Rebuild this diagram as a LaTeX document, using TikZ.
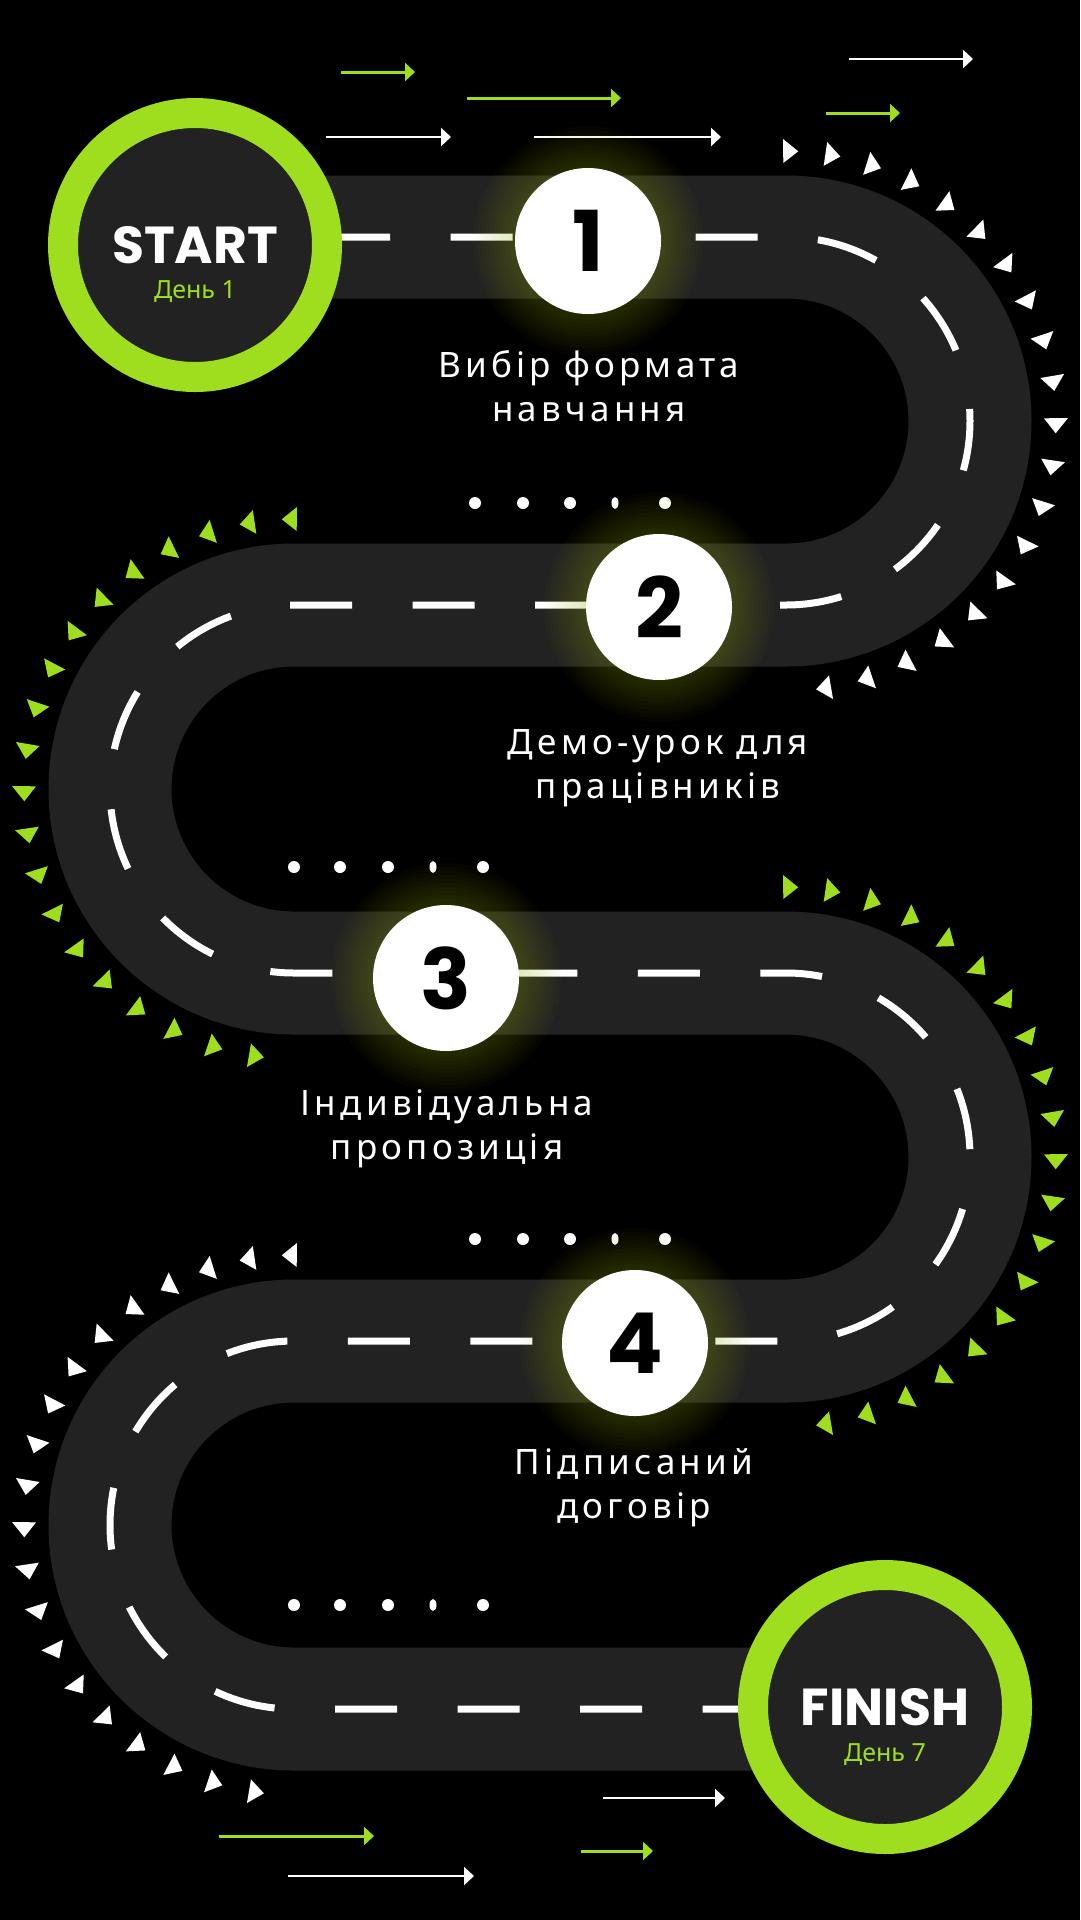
\documentclass[tikz,border=0pt]{standalone}
\usepackage{fontspec}
\setmainfont{Noto Sans}
\newfontfamily\popfont{Poppins}
\newfontfamily\labelfont[LetterSpace=12]{Noto Sans}
\usetikzlibrary{arrows.meta, calc}

\definecolor{roadgrey}{RGB}{34,34,34}
\definecolor{limegreen}{RGB}{158,222,31}
\definecolor{glowgreen}{RGB}{160,180,25}

\tikzset{
  road/.style={line width=123pt, roadgrey},
  lane/.style={line width=7pt, white, dash pattern=on 62pt off 60.5pt, dash phase=112pt},
  ringnode/.style={circle, fill=roadgrey, draw=limegreen, line width=30pt, minimum size=264pt,
    inner sep=0pt, text=white, font=\popfont\bfseries\fontsize{52}{52}\selectfont},
  daytext/.style={anchor=base, text=limegreen, inner sep=0pt, font=\fontsize{25}{25}\selectfont},
  stepcircle/.style={circle, fill=white, minimum size=146pt, inner sep=0pt,
    font=\popfont\bfseries\fontsize{84}{84}\selectfont},
  steptext/.style={text=white, align=center, inner sep=0pt, font=\labelfont\fontsize{35}{44}\selectfont},
  greenarrow/.style={-{Triangle[length=10pt,width=18pt]}, line width=3pt, limegreen},
  whitearrow/.style={-{Triangle[length=10pt,width=18pt]}, line width=2.5pt, white},
  markwhite/.style={fill=white},
  markgreen/.style={fill=limegreen},
}

% centre line of the road, used twice
\newcommand{\roadline}{(195,237) -- (786,237)
  arc[start angle=90, end angle=-90, radius=184pt] -- (294,605)
  arc[start angle=90, end angle=270, radius=184pt] -- (786,973)
  arc[start angle=90, end angle=-90, radius=184pt] -- (294,1341)
  arc[start angle=90, end angle=270, radius=184pt] -- (885,1709)}

% triangles around a turn: #1 centre, #2 style
\newcommand{\rightmarks}[2]{%
  \foreach \k in {0,...,19}{
    \pgfmathsetmacro{\aa}{89-9*\k+1.6}
    \pgfmathsetmacro{\ab}{89-9*\k-1.6}
    \fill[#2] ($(#1)+(\aa:258pt)$) -- ($(#1)+(\aa:282pt)$) -- ($(#1)+(\ab:270pt)$) -- cycle;
  }}
\newcommand{\leftmarks}[2]{%
  \foreach \k in {0,...,19}{
    \pgfmathsetmacro{\aa}{91+9*\k-1.6}
    \pgfmathsetmacro{\ab}{91+9*\k+1.6}
    \fill[#2] ($(#1)+(\aa:258pt)$) -- ($(#1)+(\aa:282pt)$) -- ($(#1)+(\ab:270pt)$) -- cycle;
  }}

\begin{document}
\begin{tikzpicture}[x=1pt, y=-1pt]
  \useasboundingbox (0,0) rectangle (1080,1920);
  \fill[black] (0,0) rectangle (1080,1920);

  % turn centres
  \coordinate (turn1) at (786,421);
  \coordinate (turn2) at (294,789);
  \coordinate (turn3) at (786,1157);
  \coordinate (turn4) at (294,1525);

  % speed arrows
  \draw[greenarrow] (341,72) -- (415,72);
  \draw[whitearrow] (849,59) -- (973,59);
  \draw[greenarrow] (467,98) -- (621,98);
  \draw[greenarrow] (826,113) -- (900,113);
  \draw[whitearrow] (326,137) -- (451,137);
  \draw[whitearrow] (534,137) -- (721,137);
  \draw[whitearrow] (603,1798) -- (725,1798);
  \draw[greenarrow] (219,1836) -- (374,1836);
  \draw[greenarrow] (581,1851) -- (653,1851);
  \draw[whitearrow] (288,1876) -- (474,1876);

  % road
  \draw[road] \roadline;
  \draw[lane] \roadline;

  % triangles along the turns
  \rightmarks{turn1}{markwhite}
  \leftmarks{turn2}{markgreen}
  \rightmarks{turn3}{markgreen}
  \leftmarks{turn4}{markwhite}

  % dots
  \foreach \y in {503,1239}{
    \foreach \x in {475,523,570,665} \fill[white] (\x,\y) circle[radius=6pt];
    \fill[white] (615,\y) ellipse[x radius=3.5pt, y radius=6pt];
  }
  \foreach \y in {867,1605}{
    \foreach \x in {294,340,388,483} \fill[white] (\x,\y) circle[radius=6pt];
    \fill[white] (433,\y) ellipse[x radius=3.5pt, y radius=6pt];
  }

  % start and finish
  \node[ringnode] (start) at (195,245) {START};
  \node[daytext] (startday) at ($(start)+(0,53)$) {День 1};
  \node[ringnode] (finish) at (885,1707) {FINISH};
  \node[daytext] (finishday) at ($(finish)+(0,54)$) {День 7};

  % steps
  \coordinate (p1) at (588,241);
  \coordinate (p2) at (659,607);
  \coordinate (p3) at (446,978);
  \coordinate (p4) at (635,1343);
  \foreach \p in {p1,p2,p3,p4}
    \foreach \r in {75,79,...,115}
      \fill[glowgreen, opacity=0.028] (\p) circle[radius=\r pt];
  \node[stepcircle] (n1) at (p1) {1};
  \node[stepcircle] (n2) at (p2) {2};
  \node[stepcircle] (n3) at (p3) {3};
  \node[stepcircle] (n4) at (p4) {4};

  \node[steptext] (t1) at (589,386) {Вибір формата\\навчання};
  \node[steptext] (t2) at (658,768) {Демо-урок для\\працівників};
  \node[steptext] (t3) at (447,1129) {Індивідуальна\\пропозиція};
  \node[steptext] (t4) at (634,1488) {Підписаний\\договір};
\end{tikzpicture}
\end{document}
